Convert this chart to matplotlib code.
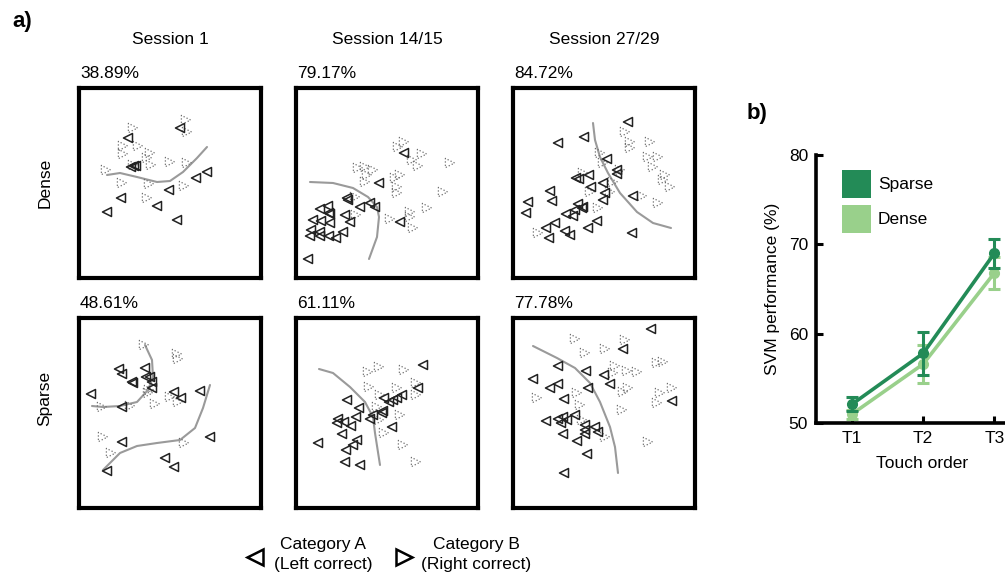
import numpy as np
import matplotlib.pyplot as plt

plt.rcParams['font.family'] = ['Liberation Sans', 'DejaVu Sans']

W, H = 1005, 580
FS = 12.5

sessions = ['Session 1', 'Session 14/15', 'Session 27/29']
rows = ['Dense', 'Sparse']
scores = [['38.89%', '79.17%', '84.72%'],
          ['48.61%', '61.11%', '77.78%']]

# scatter points, pixel offsets inside each box (x right, y down)
catA = {
    (0, 0): [(103, 42), (51, 52), (54, 81), (57, 80), (59, 80), (130, 86), (119, 92), (92, 104),
             (44, 112), (80, 120), (30, 126), (100, 134)],
    (0, 1): [(110, 67), (85, 97), (53, 112), (54, 114), (66, 121), (76, 117), (81, 121), (34, 120),
             (26, 123), (35, 127), (36, 128), (51, 129), (56, 136), (19, 134), (27, 135), (36, 137),
             (17, 144), (26, 146), (49, 146), (16, 150), (26, 150), (35, 150), (42, 152), (106, 136),
             (14, 173)],
    (0, 2): [(117, 36), (47, 57), (73, 51), (96, 73), (106, 84), (106, 88), (78, 89), (65, 92),
             (68, 93), (80, 101), (92, 97), (94, 107), (92, 114), (122, 110), (39, 105), (41, 115),
             (17, 116), (15, 127), (67, 118), (72, 121), (64, 124), (55, 128), (62, 130), (71, 122),
             (44, 137), (35, 142), (86, 135), (77, 142), (54, 145), (59, 149), (38, 152), (121, 147)],
    (1, 0): [(42, 53), (45, 58), (68, 52), (69, 61), (73, 61), (75, 66), (55, 66), (56, 67),
             (75, 72), (14, 78), (97, 76), (104, 82), (123, 75), (45, 91), (133, 121), (45, 126),
             (88, 142), (97, 151), (30, 155)],
    (1, 1): [(129, 49), (124, 72), (108, 79), (103, 82), (99, 84), (95, 86), (90, 82), (53, 84),
             (65, 92), (89, 95), (88, 97), (79, 99), (76, 103), (62, 101), (44, 103), (43, 107),
             (50, 106), (57, 110), (98, 111), (48, 118), (63, 124), (59, 129), (52, 134), (24, 127),
             (51, 146), (66, 149)],
    (1, 2): [(140, 13), (112, 33), (47, 50), (75, 55), (93, 59), (22, 63), (47, 68), (39, 72),
             (99, 68), (77, 72), (53, 83), (161, 85), (64, 99), (35, 105), (47, 103), (52, 101),
             (56, 104), (50, 107), (74, 109), (84, 111), (74, 114), (87, 116), (74, 118), (52, 118),
             (66, 125), (76, 138), (53, 157)],
}
catB = {
    (0, 0): [(109, 34), (110, 46), (56, 42), (61, 60), (46, 60), (46, 68), (73, 67), (70, 72),
             (74, 79), (93, 76), (110, 77), (29, 84), (45, 97), (72, 98), (107, 100), (70, 112),
             (56, 79)],
    (0, 1): [(110, 56), (104, 61), (128, 68), (118, 74), (124, 80), (156, 77), (64, 82), (71, 81),
             (79, 84), (73, 89), (71, 96), (101, 92), (106, 89), (103, 101), (103, 107), (149, 106),
             (61, 111), (133, 122), (116, 126), (116, 131), (96, 133), (119, 142), (62, 129)],
    (0, 2): [(114, 46), (119, 56), (119, 62), (139, 56), (137, 71), (147, 71), (142, 81), (154, 89),
             (152, 94), (159, 101), (89, 67), (92, 77), (109, 84), (102, 96), (79, 106), (99, 106),
             (131, 110), (147, 117), (87, 122), (72, 87), (27, 147)],
    (1, 0): [(67, 29), (100, 38), (101, 43), (72, 74), (71, 77), (93, 81), (101, 86), (78, 88),
             (53, 90), (25, 91), (26, 121), (34, 137), (107, 127)],
    (1, 1): [(85, 51), (74, 56), (110, 54), (75, 71), (103, 72), (122, 67), (122, 79), (86, 79),
             (83, 91), (106, 99), (85, 104), (90, 117), (109, 129), (122, 146)],
    (1, 2): [(64, 23), (114, 24), (94, 33), (74, 37), (146, 47), (152, 46), (104, 50), (116, 55),
             (126, 56), (102, 57), (161, 72), (117, 72), (112, 76), (149, 77), (66, 77), (26, 82),
             (146, 87), (69, 89), (111, 94), (71, 104), (94, 121), (137, 126)],
}
# decision boundaries
bounds = {
    (0, 0): [[(30, 89), (43, 87), (60, 91), (80, 96), (93, 95), (106, 86), (120, 72), (130, 61)]],
    (0, 1): [[(16, 96), (39, 97), (59, 102), (74, 111), (83, 121), (85, 131), (83, 151), (75, 173)]],
    (0, 2): [[(82, 37), (84, 54), (89, 71), (97, 87), (109, 107), (126, 126), (142, 137), (160, 142)]],
    (1, 0): [[(68, 29), (75, 44), (76, 61), (71, 74), (60, 86), (43, 90), (26, 91), (15, 90)],
             [(26, 154), (43, 137), (60, 130), (80, 127), (103, 124), (118, 112), (126, 92), (133, 69)]],
    (1, 1): [[(25, 53), (39, 57), (56, 71), (71, 86), (79, 101), (81, 117), (86, 149)]],
    (1, 2): [[(22, 30), (46, 42), (64, 52), (79, 67), (89, 86), (99, 111), (104, 131), (107, 157)]],
}

# panel b
touch = ['T1', 'T2', 'T3']
sparse_mean = [52.1, 57.8, 69.0]
sparse_err = [0.8, 2.4, 1.6]
dense_mean = [51.0, 56.6, 66.8]
dense_err = [0.5, 2.1, 1.8]
c_sparse = '#238b57'
c_dense = '#99d08b'

fig = plt.figure(figsize=(W / 100, H / 100), dpi=100)


def px_axes(x, y, w, h):
    return fig.add_axes([x / W, 1 - (y + h) / H, w / W, h / H])


ov = px_axes(0, 0, W, H)
ov.set_xlim(0, W)
ov.set_ylim(H, 0)
ov.axis('off')

box_x = [77, 294, 511]
box_y = [86, 316]
bw, bh = 186, 194
for r in range(2):
    for c in range(3):
        ax = px_axes(box_x[c] + 2, box_y[r] + 2, bw - 4, bh - 4)
        ax.set_xlim(2, bw - 2)
        ax.set_ylim(bh - 2, 2)
        ax.set_xticks([])
        ax.set_yticks([])
        for s in ax.spines.values():
            s.set_linewidth(3.0)
        for b in bounds[(r, c)]:
            b = np.array(b)
            ax.plot(b[:, 0], b[:, 1], color='#9a9a9a', lw=1.5, solid_capstyle='round',
                    solid_joinstyle='round', zorder=1)
        pb = np.array(catB[(r, c)])
        ax.scatter(pb[:, 0], pb[:, 1], marker='>', s=44, facecolors='none',
                   edgecolors='#6e6e6e', linewidths=0.9, linestyles=':', zorder=2)
        pa = np.array(catA[(r, c)])
        ax.scatter(pa[:, 0], pa[:, 1], marker='<', s=42, facecolors='none',
                   edgecolors='#222222', linewidths=1.1, zorder=3)
        ov.text(box_x[c] + 3, box_y[r] - 8, scores[r][c], fontsize=FS, ha='left', va='baseline')

for c in range(3):
    ov.text(box_x[c] + bw / 2, 40, sessions[c], fontsize=FS, ha='center', va='center')
ov.text(45, 183, rows[0], fontsize=FS, rotation=90, ha='center', va='center')
ov.text(45, 398, rows[1], fontsize=FS, rotation=90, ha='center', va='center')
ov.text(12, 21, 'a)', fontsize=16, fontweight='bold', ha='left', va='center')
ov.text(747, 114, 'b)', fontsize=16, fontweight='bold', ha='left', va='center')

# category legend
ov.plot([255], [557], marker='<', ms=12, mfc='none', mec='black', mew=1.8, ls='none')
ov.plot([404], [557], marker='>', ms=12, mfc='none', mec='black', mew=1.8, ls='none')
ov.text(323, 545, 'Category A', fontsize=FS, ha='center', va='center')
ov.text(323, 565, '(Left correct)', fontsize=FS, ha='center', va='center')
ov.text(476, 545, 'Category B', fontsize=FS, ha='center', va='center')
ov.text(476, 565, '(Right correct)', fontsize=FS, ha='center', va='center')

# panel b axes (runs past the right edge, as in the source)
axb = px_axes(816.4, 155, 284.8, 268)
x = np.arange(1, len(touch) + 1)
axb.errorbar(x, dense_mean, yerr=dense_err, color=c_dense, lw=2.6, marker='o', ms=7,
             capsize=4, capthick=2.2, elinewidth=2.2, label='Dense', zorder=3)
axb.errorbar(x, sparse_mean, yerr=sparse_err, color=c_sparse, lw=2.6, marker='o', ms=7,
             capsize=4, capthick=2.2, elinewidth=2.2, label='Sparse', zorder=4)
axb.set_xlim(0.5, 4.5)
axb.set_ylim(50, 80)
axb.set_yticks([50, 60, 70, 80])
axb.set_xticks(x)
axb.set_xticklabels(touch)
axb.tick_params(direction='in', length=5, width=2.2, labelsize=FS, pad=6)
for s in ['top', 'right']:
    axb.spines[s].set_visible(False)
for s in ['left', 'bottom']:
    axb.spines[s].set_linewidth(2.6)
axb.set_xlabel('Touch order', fontsize=FS, labelpad=0)
axb.set_ylabel('SVM performance (%)', fontsize=FS, labelpad=6)
axb.xaxis.set_label_coords(105.6 / 284.8, -0.125)
axb.patch.set_alpha(0)

ov.add_patch(plt.Rectangle((842, 170), 29, 28, color=c_sparse, lw=0))
ov.add_patch(plt.Rectangle((842, 205), 29, 28, color=c_dense, lw=0))
ov.text(878, 185, 'Sparse', fontsize=FS, ha='left', va='center')
ov.text(878, 219, 'Dense', fontsize=FS, ha='left', va='center')

fig.savefig('out.png', dpi=100)
